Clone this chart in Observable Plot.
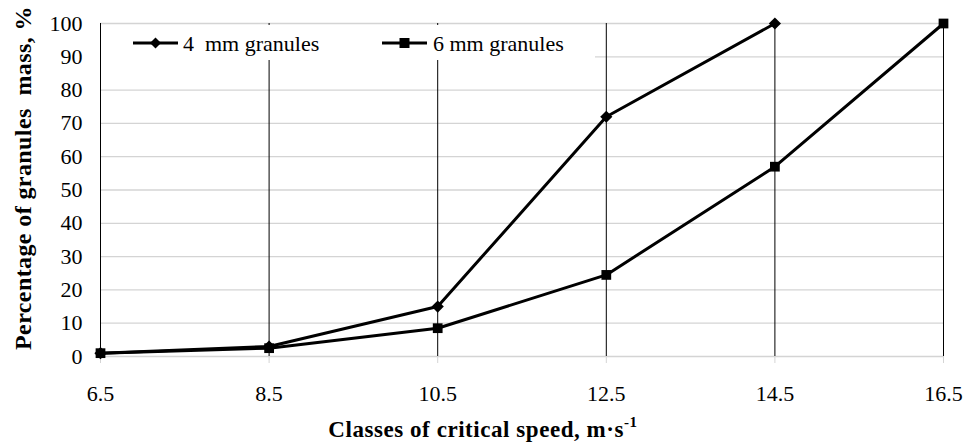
<!DOCTYPE html>
<html>
<head>
<meta charset="utf-8">
<script src="https://cdn.jsdelivr.net/npm/d3@7"></script>
<script src="https://cdn.jsdelivr.net/npm/@observablehq/plot@0.6"></script>
<style>
  html, body { margin: 0; padding: 0; background: #fff; }
  #chart svg { display: block; }
  #chart svg text { font-family: "Liberation Serif", "Times New Roman", serif; }
</style>
</head>
<body>
<div id="chart"></div>
<script>
const classes = [6.5, 8.5, 10.5, 12.5, 14.5, 16.5];
const mm4 = [1, 3, 15, 72, 100];
const mm6 = [1, 2.5, 8.5, 24.5, 57, 100];
const yTicks = [0, 10, 20, 30, 40, 50, 60, 70, 80, 90, 100];
const seriesNames = ["4  mm granules", "6 mm granules"];
const xTitle = "Classes of critical speed, m·s";
const yTitle = "Percentage of granules  mass, %";

const d4 = mm4.map((v, i) => ({x: classes[i], y: v}));
const d6 = mm6.map((v, i) => ({x: classes[i], y: v}));

const font = "Liberation Serif";
const W = 968, H = 444;
const chart = Plot.plot({
  width: W,
  height: H,
  marginLeft: 100,
  marginRight: 25,
  marginTop: 23,
  marginBottom: 88,
  style: {fontFamily: font, fontSize: "22px", color: "#000", background: "#fff"},
  x: {domain: [6.5, 16.5]},
  y: {domain: [0, 100]},
  marks: [
    Plot.ruleY(yTicks, {stroke: "#d4d4d4", strokeWidth: 1.3}),
    Plot.axisX(classes, {tickSize: 7, stroke: "#d4d4d4", tickPadding: 22, label: null, tickFormat: d => d.toFixed(1), fill: "#000", fontSize: 22, fontFamily: font}),
    Plot.axisY(yTicks, {tickSize: 0, tickPadding: 18, label: null, fontSize: 22, fill: "#000", fontFamily: font}),
    Plot.ruleX(classes, {stroke: "#000", strokeWidth: 1}),
    Plot.line(d4, {x: "x", y: "y", stroke: "#000", strokeWidth: 3}),
    Plot.line(d6, {x: "x", y: "y", stroke: "#000", strokeWidth: 3}),
    Plot.dot(d4, {x: "x", y: "y", symbol: "diamond2", r: 5.5, fill: "#000"}),
    Plot.dot(d6, {x: "x", y: "y", symbol: "square", r: 5.5, fill: "#000"})
  ]
});

const svg = d3.select(chart);
svg.attr("font-family", font);

// Legend (white box over gridlines)
const lg = svg.append("g").attr("text-anchor", "start");
lg.append("rect").attr("x", 101).attr("y", 25).attr("width", 494).attr("height", 35).attr("fill", "#fff");
const legendItems = [
  {x0: 133, x1: 178, rotate: 45, size: 60, tx: 183, name: seriesNames[0]},
  {x0: 382, x1: 427, rotate: 0, size: 100, tx: 433, name: seriesNames[1]}
];
legendItems.forEach(it => {
  lg.append("line").attr("x1", it.x0).attr("x2", it.x1).attr("y1", 43).attr("y2", 43).attr("stroke", "#000").attr("stroke-width", 3);
  lg.append("path").attr("d", d3.symbol(d3.symbolSquare, it.size)())
    .attr("transform", `translate(${(it.x0 + it.x1) / 2},43) rotate(${it.rotate})`).attr("fill", "#000");
  lg.append("text").attr("x", it.tx).attr("y", 51).attr("text-anchor", "start").attr("font-size", 22)
    .style("white-space", "pre").attr("fill", "#000").text(it.name);
});

// Axis titles
const xt = svg.append("text").attr("x", 483).attr("y", 437).attr("text-anchor", "middle")
  .attr("font-size", 23).attr("font-weight", "bold").attr("letter-spacing", "0.55px").attr("fill", "#000");
xt.append("tspan").text(xTitle);
xt.append("tspan").attr("dy", -10).attr("font-size", 15).text("-1");

svg.append("text").attr("transform", "translate(31,178) rotate(-90)").attr("text-anchor", "middle")
  .attr("font-size", 24).attr("font-weight", "bold").attr("letter-spacing", "0.4px").style("white-space", "pre")
  .attr("fill", "#000").text(yTitle);

document.getElementById("chart").appendChild(chart);
</script>
</body>
</html>
